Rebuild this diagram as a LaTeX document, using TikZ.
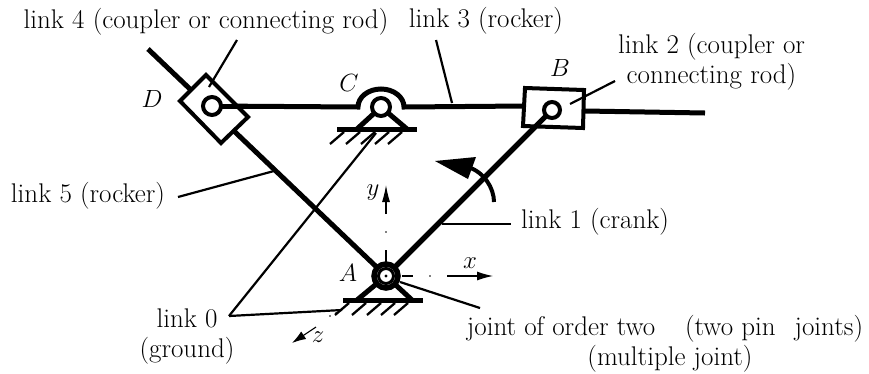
\documentclass[tikz,border=0pt]{standalone}
\usetikzlibrary{arrows.meta}
\tikzset{
 lab/.style={inner sep=0pt,font=\fontsize{27}{30}\selectfont,align=center},
 thick link/.style={line width=5pt},
 box link/.style={line width=4pt,line join=miter},
 lead/.style={line width=2.2pt},
 hatch/.style={line width=2.3pt},
 dm/.style={inner sep=0pt,font=\fontsize{27}{27}\selectfont},
 dms/.style={inner sep=0pt,font=\fontsize{24}{24}\selectfont},
 axis/.style={line width=1.1pt},
 pin/.style={circle,draw,fill=white,line width=4pt,inner sep=0pt},
}
\begin{document}
\begin{tikzpicture}[x=1pt,y=-1pt]
\useasboundingbox (0,0) rectangle (869,373);
\coordinate (A) at (386,276);
\coordinate (B) at (552,110);
\coordinate (C) at (381,107);
\coordinate (D) at (212,106);
\coordinate (L5top) at (148,49);
\coordinate (Bend) at (705,113);
% links
\draw[thick link] (L5top) -- (A);
\draw[thick link] (A) -- (B);
\draw[thick link] (D) -- (358,107) arc[start angle=180,end angle=360,x radius=23,y radius=18] -- (525,106);
\draw[thick link] (585,111) -- (Bend);
% sliders
\fill[white] (206,75) -- (180,101) -- (221,143) -- (248,117) -- cycle;
\draw[thick link] (D) -- (248,106);
\draw[box link] (206,75) -- (180,101) -- (221,143) -- (248,117) -- cycle;
\fill[white] (525,88) -- (584,90) -- (583,128) -- (523,126) -- cycle;
\draw[thick link] (A) -- (B);
\draw[box link] (525,88) -- (584,90) -- (583,128) -- (523,126) -- cycle;
% grounds
\draw[thick link] (337,129) -- (417,129);
\draw[thick link] (357,129) -- (C) -- (407,129);
\draw[thick link] (343,300) -- (423,300);
\draw[thick link] (357,300) -- (A) -- (412,300);
\foreach \x in {330,346,361,375,388} \draw[hatch] (\x,144) -- ++(14,-12);
\foreach \x in {335,352,367,381,394} \draw[hatch] (\x,315) -- ++(14,-12);
% pins
\node[pin,minimum size=18pt] (pD) at (D) {};
\node[pin,minimum size=18pt] (pC) at (C) {};
\node[pin,minimum size=16pt] (pB) at (B) {};
\node[pin,line width=5.5pt,minimum size=24pt] (pA) at (A) {};
\node[circle,draw,line width=3pt,minimum size=15pt,inner sep=0pt] (pA2) at (A) {};
\fill (A) circle (1.6pt);
% axes
\draw[axis,-{Latex[length=17pt,width=8pt]}] (386,214) -- (386,185);
\draw[axis] (386,250) -- (386,264);
\fill (386,232) circle (.8pt);
\draw[axis] (402,276) -- (413,276);
\fill (430,276) circle (.8pt);
\draw[axis,-{Latex[length=16pt,width=9pt]}] (447,276) -- (493,276);
\draw[axis,-{Latex[length=14pt,width=9pt]}] (316,327) -- (292,343);
\fill (330,316) circle (.8pt);
\fill (336,313) circle (.8pt);
% leaders
\coordinate (g) at (229,316);
\draw[lead] (g) -- (376,133);
\draw[lead] (g) -- (342,310);
\draw[lead] (237,40) -- (209,87);
\draw[lead] (436,40) -- (452,103);
\draw[lead] (615,81) -- (570,104);
\draw[lead] (400,282) -- (480,308);
\draw[lead] (178,197) -- (274,171);
\draw[lead] (442,224) -- (511,224);
% crank arrow
\draw[line width=4pt] (494,202) .. controls (494,188) and (484,172) .. (468,167);
\fill (435,161) -- (476,157) -- (468,179) -- cycle;
% labels
\node[lab] (t4) at (206,21.5) {link 4 (coupler or connecting rod)};
\node[lab] (t3) at (486,20.5) {link 3 (rocker)};
\node[lab] (t2) at (711.5,61.5) {link 2 (coupler or\\connecting rod)};
\node[lab] (t5) at (88,195.5) {link 5 (rocker)};
\node[lab] (t1) at (595,221.5) {link 1 (crank)};
\node[lab] (t0) at (187,336) {link 0\\(ground)};
\node[lab] (tj) at (665,343.5) {joint of order two\hspace{1.1em}(two pin\hspace{.7em}joints)\\\hspace*{10pt}(multiple joint)};
\node[dm] (lD) at (152,99) {$D$};
\node[dm] (lC) at (349,83) {$C$};
\node[dm] (lB) at (560,68) {$B$};
\node[dm] (lA) at (348,273) {$A$};
\node[dms] (ly) at (373,193) {$y$};
\node[dms] (lx) at (470,263) {$x$};
\node[dms] (lz) at (318,337) {$z$};
\end{tikzpicture}
\end{document}
